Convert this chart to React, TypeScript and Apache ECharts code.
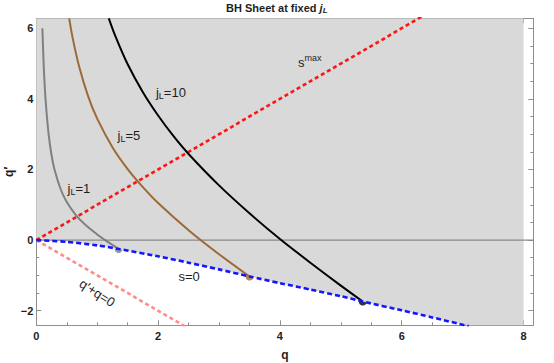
import React, { useEffect, useRef } from 'react';
import * as echarts from 'echarts';

// ---- axis ranges and ticks ----
const X_MIN = 0;
const X_MAX = 8.16;
const Y_MIN = -2.414;
const Y_MAX = 6.283;
const xLabelTicks = [0, 2, 4, 6, 8];
const xMinorTicks = [0, 0.5, 1, 1.5, 2, 2.5, 3, 3.5, 4, 4.5, 5, 5.5, 6, 6.5, 7, 7.5, 8];
const yLabelTicks = [-2, 0, 2, 4, 6];
const yMinorTicks = [-2, -1.5, -1, -0.5, 0, 0.5, 1, 1.5, 2, 2.5, 3, 3.5, 4, 4.5, 5, 5.5, 6];

// ---- s = 0 boundary (blue dashed); the shaded sheet lies above it up to q = 8 ----
const sZeroQ = [0, 0.5, 1, 1.35, 2, 2.5, 3, 3.5, 4, 4.5, 5, 5.36, 6, 6.5, 7.1];
const sZeroQp = [0, -0.05, -0.15, -0.25, -0.46, -0.64, -0.83, -1.03, -1.22, -1.4, -1.59, -1.74, -1.99, -2.19, -2.44];
const sheetEdgeQ = [7.6, 8];
const sheetEdgeQp = [-2.65, -2.82];

// ---- s max line (red dashed) ----
const sMaxQ = [0, 6.4];
const sMaxQp = [0, 6.4];

// ---- q' + q = 0 line (pink dashed) ----
const antiQ = [0, 2.45];
const antiQp = [0, -2.45];

// ---- zero line ----
const zeroQ = [X_MIN, X_MAX];
const zeroQp = [0, 0];

// ---- fixed j_L curves ----
const jL1Q = [0.1, 0.12, 0.15, 0.2, 0.25, 0.3, 0.4, 0.5, 0.65, 0.8, 1.0, 1.13, 1.35];
const jL1Qp = [6.0, 5.02, 4.03, 3.03, 2.41, 1.99, 1.44, 1.08, 0.71, 0.44, 0.16, 0.0, -0.25];
const jL5Q = [0.54, 0.6, 0.7, 0.85, 1.0, 1.25, 1.5, 1.75, 2.0, 2.5, 3.0, 3.5];
const jL5Qp = [6.283, 5.7, 4.94, 4.08, 3.44, 2.63, 2.01, 1.5, 1.05, 0.28, -0.4, -1.03];
const jL10Q = [1.19, 1.3, 1.5, 1.75, 2.0, 2.25, 2.5, 3.0, 3.5, 4.0, 4.5, 5.0, 5.36];
const jL10Qp = [6.283, 5.77, 4.98, 4.19, 3.53, 2.95, 2.44, 1.55, 0.76, 0.03, -0.64, -1.29, -1.74];

// ---- end points ----
const endQ = [1.35, 3.5, 5.36];
const endQp = [-0.25, -1.03, -1.74];

// ---- annotations ----
const noteTexts = ['{n|j}{sub|L}{n|=10}', '{n|j}{sub|L}{n|=5}', '{n|j}{sub|L}{n|=1}', '{n|s}{sup|max}', '{n|s=0}', '{n|q′+q=0}'];
const noteQ = [2.21, 1.52, 0.7, 4.49, 2.51, 1.0];
const noteQp = [4.17, 2.96, 1.45, 5.04, -1.04, -1.5];

const FONT = '"Liberation Sans", Arial, sans-serif';
const FRAME = '#8f8f8f';
const INK = '#1e1e1e';

const zip = (xs: number[], ys: number[]) => xs.map((x, i) => [x, ys[i]]);

function xAxisDef(position: string, ticks: number[], len: number, labels: boolean, line: boolean) {
  return {
    type: 'value',
    position,
    min: X_MIN,
    max: X_MAX,
    splitLine: { show: false },
    axisLine: { show: line, onZero: false, lineStyle: { color: FRAME, width: 1 } },
    axisTick: { show: true, inside: true, length: len, customValues: ticks, lineStyle: { color: FRAME, width: 1 } },
    axisLabel: labels
      ? { show: true, customValues: xLabelTicks, margin: 5, fontSize: 11, fontWeight: 'bold', color: INK, fontFamily: FONT,
          formatter: (v: number) => String(v).replace('-', '−') }
      : { show: false },
  };
}

function yAxisDef(position: string, ticks: number[], len: number, labels: boolean, line: boolean) {
  return {
    type: 'value',
    position,
    min: Y_MIN,
    max: Y_MAX,
    splitLine: { show: false },
    axisLine: { show: line, onZero: false, lineStyle: { color: FRAME, width: 1 } },
    axisTick: { show: true, inside: true, length: len, customValues: ticks, lineStyle: { color: FRAME, width: 1 } },
    axisLabel: labels
      ? { show: true, customValues: yLabelTicks, margin: 3, fontSize: 11, fontWeight: 'bold', color: INK, fontFamily: FONT,
          formatter: (v: number) => String(v).replace('-', '−') }
      : { show: false },
  };
}

export default function App() {
  const ref = useRef<HTMLDivElement>(null);
  useEffect(() => {
    document.body.style.margin = '0';
    if (!ref.current) return;
    const chart = echarts.init(ref.current, undefined, { renderer: 'svg' });

    const xMain: any = xAxisDef('bottom', xLabelTicks, 5, true, true);
    xMain.name = 'q';
    xMain.nameLocation = 'middle';
    xMain.nameGap = 24;
    xMain.nameTextStyle = { fontSize: 12, fontWeight: 'bold', color: INK, fontFamily: FONT };

    const yMain: any = yAxisDef('left', yLabelTicks, 5, true, true);

    const curve = (data: number[][], color: string, width: number, dash: any, smooth: number) => ({
      type: 'line',
      data,
      xAxisIndex: 0,
      yAxisIndex: 0,
      showSymbol: false,
      symbol: 'none',
      smooth: smooth > 0 ? smooth : false,
      clip: true,
      silent: true,
      lineStyle: { color, width, type: dash, cap: 'butt' },
    });

    chart.setOption({
      animation: false,
      backgroundColor: '#ffffff',
      grid: { left: 36.3, right: 20.7, top: 18.3, bottom: 37.7, containLabel: false, outerBoundsMode: 'none' },
      xAxis: [
        xMain,
        xAxisDef('bottom', xMinorTicks, 3, false, false),
        xAxisDef('top', xLabelTicks, 5, false, true),
        xAxisDef('top', xMinorTicks, 3, false, false),
      ],
      yAxis: [
        yMain,
        yAxisDef('left', yMinorTicks, 3, false, false),
        yAxisDef('right', yLabelTicks, 5, false, true),
        yAxisDef('right', yMinorTicks, 3, false, false),
      ],
      series: [
        {
          type: 'line',
          data: zip(sZeroQ.concat(sheetEdgeQ), sZeroQp.concat(sheetEdgeQp)),
          showSymbol: false,
          symbol: 'none',
          smooth: 0.25,
          clip: true,
          silent: true,
          lineStyle: { width: 0, opacity: 0 },
          areaStyle: { color: '#d9d9d9', opacity: 1, origin: 'end' },
        },
        curve(zip(zeroQ, zeroQp), '#8a8a8a', 1.4, 'solid', 0),
        curve(zip(antiQ, antiQp), '#ff8c8c', 2.6, [4, 3], 0),
        curve(zip(sMaxQ, sMaxQp), '#ff1414', 2.6, [4, 3], 0),
        curve(zip(jL1Q, jL1Qp), '#808080', 2, 'solid', 0.3),
        curve(zip(jL5Q, jL5Qp), '#9c6a37', 2, 'solid', 0.3),
        curve(zip(jL10Q, jL10Qp), '#000000', 2, 'solid', 0.3),
        curve(zip(sZeroQ, sZeroQp), '#1414ff', 2.6, [5, 3], 0.25),
        {
          type: 'scatter',
          silent: true,
          symbol: 'circle',
          symbolSize: 8,
          data: endQ.map((q, i) => ({
            value: [q, endQp[i]],
            itemStyle: { color: ['#808080', '#9c6a37', '#000000'][i] },
          })),
        },
      ],
    });

    const rich = {
      n: { fontSize: 13, fontFamily: FONT, fill: INK, color: INK },
      sub: { fontSize: 9, fontFamily: FONT, fill: INK, color: INK, padding: [7, 0, 0, 0] },
      sup: { fontSize: 9, fontFamily: FONT, fill: INK, color: INK, padding: [0, 0, 9, 0] },
    };
    const noteRot = [0, 0, 0, 0, 0, -33];
    const notes = noteQ.map((q, i) => {
      const p = chart.convertToPixel({ gridIndex: 0 }, [q, noteQp[i]]) as number[];
      return {
        type: 'text',
        x: p[0],
        y: p[1],
        rotation: (noteRot[i] * Math.PI) / 180,
        z: 100,
        silent: true,
        style: { text: noteTexts[i], align: 'center', verticalAlign: 'middle', rich },
      };
    });
    const [gx0, gyTop] = chart.convertToPixel({ gridIndex: 0 }, [X_MIN, Y_MAX]) as number[];
    const [gx1, gyBot] = chart.convertToPixel({ gridIndex: 0 }, [X_MAX, Y_MIN]) as number[];

    chart.setOption({
      graphic: [
        {
          type: 'text',
          x: (gx0 + gx1) / 2 - 8,
          y: 8,
          z: 100,
          style: {
            text: '{b|BH Sheet at fixed }{i|j}{s|L}',
            align: 'center',
            verticalAlign: 'middle',
            rich: {
              b: { fontSize: 11, fontWeight: 'bold', fontFamily: FONT, fill: INK, color: INK },
              i: { fontSize: 11, fontWeight: 'bold', fontStyle: 'italic', fontFamily: FONT, fill: INK, color: INK },
              s: { fontSize: 8, fontWeight: 'bold', fontStyle: 'italic', fontFamily: FONT, fill: INK, color: INK, padding: [5, 0, 0, 0] },
            },
          },
        },
        {
          type: 'text',
          x: gx0 - 27,
          y: (gyTop + gyBot) / 2,
          rotation: Math.PI / 2,
          z: 100,
          silent: true,
          style: {
            text: 'q′',
            align: 'center',
            verticalAlign: 'middle',
            fontSize: 12,
            fontWeight: 'bold',
            fontFamily: FONT,
            fill: INK,
          },
        },
        ...notes,
      ],
    });
    return () => chart.dispose();
  }, []);
  return <div ref={ref} style={{ width: 554, height: 363 }} />;
}
